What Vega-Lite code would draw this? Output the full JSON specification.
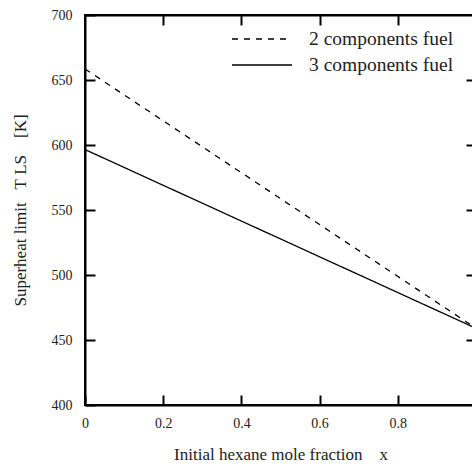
{
  "$schema": "https://vega.github.io/schema/vega-lite/v6.json",
  "width": 391,
  "height": 390,
  "autosize": {"type": "none"},
  "padding": {"left": 85, "top": 15, "right": 0, "bottom": 61},
  "background": "white",
  "config": {
    "font": "Liberation Serif",
    "view": {"stroke": "black", "strokeWidth": 2},
    "axis": {
      "domainColor": "black",
      "domainWidth": 2,
      "tickColor": "black",
      "tickWidth": 2,
      "tickSize": -10,
      "grid": false,
      "labelColor": "#222",
      "labelFont": "Liberation Serif",
      "labelFontSize": 14,
      "titleFont": "Liberation Serif",
      "titleFontSize": 17,
      "titleFontWeight": "normal",
      "titleColor": "#222"
    }
  },
  "data": {
    "values": [
      {"fuel": "2 components fuel", "x": 0, "T": 658.5},
      {"fuel": "2 components fuel", "x": 1, "T": 459},
      {"fuel": "3 components fuel", "x": 0, "T": 596.5},
      {"fuel": "3 components fuel", "x": 1, "T": 459}
    ]
  },
  "layer": [
    {
      "mark": {"type": "line", "color": "black", "strokeWidth": 1.3},
      "encoding": {
        "x": {
          "field": "x", "type": "quantitative",
          "scale": {"domain": [0, 1], "nice": false},
          "axis": {
            "orient": "bottom",
            "values": [0, 0.2, 0.4, 0.6, 0.8],
            "format": "~g",
            "labelPadding": 21,
            "labelFlush": false,
            "title": "Initial hexane mole fraction\u00a0\u00a0\u00a0\u00a0x",
            "titlePadding": 16
          }
        },
        "y": {
          "field": "T", "type": "quantitative",
          "scale": {"domain": [400, 700], "nice": false, "zero": false},
          "axis": {
            "orient": "left",
            "values": [400, 450, 500, 550, 600, 650, 700],
            "labelPadding": 23,
            "labelFlush": false,
            "title": "Superheat limit\u00a0\u00a0\u00a0T\u00a0LS\u00a0\u00a0\u00a0\u00a0[K]",
            "titlePadding": 22
          }
        },
        "strokeDash": {
          "field": "fuel", "type": "nominal",
          "scale": {"domain": ["2 components fuel", "3 components fuel"], "range": [[6, 6], [1, 0]]},
          "legend": {
            "title": null,
            "orient": "none",
            "legendX": 161,
            "legendY": 8,
            "symbolType": "M-2,0H2",
            "symbolSize": 900,
            "symbolStrokeColor": "black",
            "symbolFillColor": "transparent",
            "symbolStrokeWidth": 1.3,
            "labelFont": "Liberation Serif",
            "labelFontSize": 19.5,
            "labelColor": "#222",
            "labelOffset": 31,
            "rowPadding": 0
          }
        }
      }
    },
    {
      "mark": {"type": "line", "opacity": 0},
      "encoding": {
        "detail": {"field": "fuel"},
        "x": {
          "field": "x", "type": "quantitative",
          "axis": {"orient": "top", "values": [0.2, 0.4, 0.6, 0.8], "labels": false, "title": null}
        },
        "y": {
          "field": "T", "type": "quantitative",
          "axis": {"orient": "right", "values": [450, 500, 550, 600, 650], "labels": false, "title": null}
        }
      }
    }
  ],
  "resolve": {"axis": {"x": "independent", "y": "independent"}}
}
